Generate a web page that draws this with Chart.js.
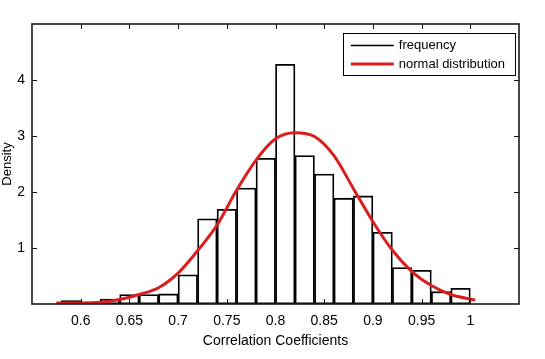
<!DOCTYPE html>
<html><head><meta charset="utf-8">
<script src="https://cdn.jsdelivr.net/npm/chart.js@4.4.1/dist/chart.umd.min.js"></script>
<style>html,body{margin:0;padding:0;background:#fff;}#wrap{width:545px;height:359px;position:relative;}</style>
</head><body><div id="wrap"><canvas id="c" width="545" height="359"></canvas></div>
<script>
// Histogram bins (centres, width 0.02) and densities
const binCenters = [0.59,0.61,0.63,0.65,0.67,0.69,0.71,0.73,0.75,0.77,0.79,0.81,0.83,0.85,0.87,0.89,0.91,0.93,0.95,0.97,0.99];
const density    = [0.06,0.00,0.09,0.17,0.17,0.18,0.52,1.52,1.69,2.07,2.60,4.28,2.65,2.32,1.89,1.93,1.28,0.65,0.60,0.22,0.28];
// Normal distribution curve points
const curveX = [0.575,0.60,0.62,0.64,0.66,0.68,0.70,0.72,0.74,0.76,0.78,0.80,0.82,0.84,0.86,0.88,0.90,0.92,0.94,0.96,0.98,1.005];
const curveY = [0.02,0.02,0.03,0.08,0.17,0.29,0.55,0.95,1.41,2.03,2.57,2.95,3.06,2.99,2.65,2.06,1.47,0.96,0.58,0.33,0.17,0.07];
// Tick labels
const xTickValues = [0.6,0.65,0.7,0.75,0.8,0.85,0.9,0.95,1];
const xTickLabels = ['0.6','0.65','0.7','0.75','0.8','0.85','0.9','0.95','1'];
const yTickValues = [1,2,3,4];
const yTickLabels = ['1','2','3','4'];
const seriesNames = ['frequency','normal distribution'];

const FONT = '"Liberation Sans", Arial, Helvetica, sans-serif';
const RED = '#d81e1e';

const frameTicks = {
  id: 'frameTicks',
  afterDatasetsDraw(chart) {
    const {ctx, chartArea: a, scales: {x, y}} = chart;
    ctx.save();
    ctx.strokeStyle = '#111';
    ctx.lineWidth = 1;
    const L = 5;
    ctx.beginPath();
    xTickValues.forEach(v => {
      const px = Math.round(x.getPixelForValue(v)) + 0.5;
      ctx.moveTo(px, a.bottom); ctx.lineTo(px, a.bottom - L);
      ctx.moveTo(px, a.top); ctx.lineTo(px, a.top + L);
    });
    yTickValues.forEach(v => {
      const py = Math.round(y.getPixelForValue(v)) + 0.5;
      ctx.moveTo(a.left, py); ctx.lineTo(a.left + L, py);
      ctx.moveTo(a.right, py); ctx.lineTo(a.right - L, py);
    });
    ctx.stroke();
    ctx.lineWidth = 1.6;
    ctx.strokeStyle = '#1a1a1a';
    ctx.strokeRect(a.left, a.top, a.right - a.left, a.bottom - a.top);
    ctx.restore();
  },
  afterDraw(chart) {
    const {ctx, chartArea: a} = chart;
    ctx.save();
    ctx.font = '13px ' + FONT;
    const tw = Math.max(...seriesNames.map(s => ctx.measureText(s).width));
    const w = 56 + tw + 10, h = 42;
    const bx = a.right - 4 - w, by = a.top + 9;
    ctx.fillStyle = '#fff';
    ctx.fillRect(bx, by, w, h);
    ctx.strokeStyle = '#000';
    ctx.lineWidth = 1;
    ctx.strokeRect(Math.round(bx) + 0.5, Math.round(by) + 0.5, Math.round(w), h);
    const rows = [{c: '#000', lw: 1.5, y: by + 12.5}, {c: RED, lw: 3, y: by + 31}];
    rows.forEach((r, i) => {
      ctx.beginPath();
      ctx.strokeStyle = r.c; ctx.lineWidth = r.lw;
      ctx.moveTo(bx + 8, r.y); ctx.lineTo(bx + 51, r.y);
      ctx.stroke();
      ctx.fillStyle = '#000';
      ctx.textBaseline = 'middle'; ctx.textAlign = 'left';
      ctx.fillText(seriesNames[i], bx + 56, r.y);
    });
    ctx.restore();
  }
};

new Chart(document.getElementById('c'), {
  type: 'bar',
  data: {
    datasets: [
      {
        type: 'line', label: seriesNames[1], order: 0,
        data: curveX.map((v, i) => ({x: v, y: curveY[i]})),
        borderColor: RED, borderWidth: 3, pointRadius: 0, fill: false,
        cubicInterpolationMode: 'monotone'
      },
      {
        type: 'bar', label: seriesNames[0], order: 1,
        data: binCenters.map((v, i) => ({x: v, y: density[i]})),
        backgroundColor: '#ffffff', borderColor: '#000', borderWidth: 1.8,
        borderSkipped: false, barPercentage: 1, categoryPercentage: 1
      }
    ]
  },
  options: {
    responsive: false, animation: false, devicePixelRatio: 1,
    layout: {padding: {top: 24, right: 26, left: 0, bottom: 0}},
    plugins: {legend: {display: false}, tooltip: {enabled: false}},
    scales: {
      x: {
        type: 'linear', min: 0.55, max: 1.05, offset: false,
        grid: {display: false, drawTicks: false},
        border: {display: false},
        afterBuildTicks: s => { s.ticks = xTickValues.map(v => ({value: v})); },
        afterFit: s => { s.height = 55; },
        ticks: {
          padding: 9, color: '#000', font: {size: 14, family: FONT}, maxRotation: 0, autoSkip: false,
          callback: (v) => { const i = xTickValues.indexOf(v); return i >= 0 ? xTickLabels[i] : ''; }
        },
        title: {display: true, text: 'Correlation Coefficients', color: '#000',
                font: {size: 14, family: FONT}, padding: {top: 0, bottom: 9}}
      },
      y: {
        type: 'linear', min: 0, max: 5,
        grid: {display: false, drawTicks: false},
        border: {display: false},
        afterBuildTicks: s => { s.ticks = yTickValues.map(v => ({value: v})); },
        afterFit: s => { s.width = 32; },
        ticks: {
          padding: 7, color: '#000', font: {size: 14, family: FONT},
          callback: (v) => { const i = yTickValues.indexOf(v); return i >= 0 ? yTickLabels[i] : ''; }
        },
        title: {display: true, text: 'Density', color: '#000',
                font: {size: 13, family: FONT}, padding: {top: 0, bottom: 0}}
      }
    }
  },
  plugins: [frameTicks]
});
</script></body></html>
